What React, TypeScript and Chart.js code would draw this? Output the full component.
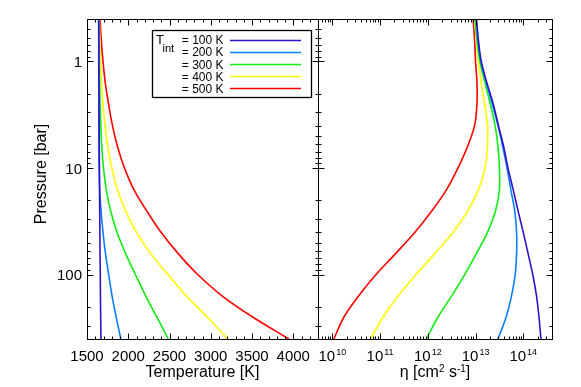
import React, { useEffect, useRef } from 'react';
import { Chart, registerables } from 'chart.js';

Chart.register(...registerables);

// ---------------- data ----------------
const pressure = [0.4, 0.63, 1, 1.6, 2.5, 4, 6.3, 10, 16, 25, 40, 63, 100, 160, 250, 400]; // bar

const tintLabels = ['100 K', '200 K', '300 K', '400 K', '500 K'];
const seriesColors = ['#3311cc', '#0a80ff', '#11ee11', '#ffff00', '#ff0000'];

// Temperature [K] at each pressure
const temp100 = [1642, 1643, 1644, 1645, 1646, 1647, 1649, 1650, 1652, 1654, 1656, 1658, 1661, 1663, 1666, 1669];
const temp200 = [1642, 1642, 1642, 1643, 1643, 1644, 1645, 1648, 1655, 1670, 1694, 1724, 1763, 1805, 1854, 1910];
const temp300 = [1642, 1644, 1648, 1653, 1659, 1667, 1679, 1700, 1734, 1785, 1864, 1967, 2088, 2215, 2348, 2485];
const temp400 = [1649, 1655, 1664, 1677, 1694, 1718, 1752, 1801, 1870, 1967, 2100, 2270, 2482, 2712, 2961, 3205];
const temp500 = [1658, 1673, 1694, 1722, 1761, 1809, 1870, 1955, 2070, 2221, 2397, 2603, 2845, 3148, 3512, 3948];

// log10 of eta [cm^2 s^-1] at each pressure
const logEta100 = [13.02, 13.06, 13.12, 13.24, 13.37, 13.48, 13.59, 13.68, 13.79, 13.89, 14.0, 14.1, 14.2, 14.28, 14.33, 14.37];
const logEta200 = [13.01, 13.05, 13.11, 13.23, 13.35, 13.47, 13.57, 13.66, 13.74, 13.82, 13.86, 13.86, 13.83, 13.75, 13.64, 13.47];
const logEta300 = [12.99, 13.03, 13.09, 13.2, 13.31, 13.41, 13.47, 13.5, 13.5, 13.42, 13.25, 13.02, 12.77, 12.49, 12.21, 11.97];
const logEta400 = [12.98, 13.02, 13.06, 13.12, 13.19, 13.25, 13.25, 13.2, 13.06, 12.84, 12.53, 12.15, 11.75, 11.37, 11.06, 10.8];
const logEta500 = [12.95, 12.98, 13.0, 13.03, 13.03, 12.98, 12.83, 12.63, 12.39, 12.09, 11.73, 11.33, 10.91, 10.54, 10.24, 10.03];

// axes
const tempTicks = [1500, 2000, 2500, 3000, 3500, 4000];
const pressureTicks = [1, 10, 100];
const pressureTickLabels = ['1', '10', '100'];
const etaTickExponents = [10, 11, 12, 13, 14];

const tempSeries = [temp100, temp200, temp300, temp400, temp500];
const etaSeries = [logEta100, logEta200, logEta300, logEta400, logEta500];

const FONT = '"Liberation Sans", Arial, Helvetica, sans-serif';
const MAJOR = 6;
const MINOR = 3;

function logTickValues(lo: number, hi: number, fromExp: number, toExp: number) {
  const out: Array<[number, boolean]> = [];
  for (let e = fromExp; e <= toExp; e++) {
    for (let k = 1; k <= 9; k++) {
      const v = k * Math.pow(10, e);
      if (v >= lo * 0.999 && v <= hi * 1.001) out.push([v, k === 1]);
    }
  }
  return out;
}

const framePlugin = {
  id: 'idlFrame',
  afterDraw(chart: any) {
    const { ctx } = chart;
    const xT = chart.scales.xT;
    const xE = chart.scales.xE;
    const yS = chart.scales.y;
    const px = (v: number) => Math.round(v) + 0.5;
    const top = px(yS.top);
    const bottom = px(yS.bottom);

    ctx.save();
    ctx.strokeStyle = '#000';
    ctx.lineWidth = 1;
    ctx.beginPath();
    const seg = (a: number, b: number, c: number, d: number) => {
      ctx.moveTo(a, b);
      ctx.lineTo(c, d);
    };
    const pTicks = logTickValues(0.4, 400, -1, 2);
    for (const s of [xT, xE]) {
      const l = px(s.left);
      const r = px(s.right);
      seg(l, top, r, top);
      seg(l, bottom, r, bottom);
      seg(l, top, l, bottom);
      seg(r, top, r, bottom);
      for (const [v, major] of pTicks) {
        const y = px(yS.getPixelForValue(v));
        const len = major ? MAJOR : MINOR;
        seg(l, y, l + len, y);
        seg(r, y, r - len, y);
      }
    }
    for (let t = 1500; t <= 4300; t += 100) {
      const x = px(xT.getPixelForValue(t));
      const len = tempTicks.includes(t) ? MAJOR : MINOR;
      seg(x, bottom, x, bottom - len);
      seg(x, top, x, top + len);
    }
    for (const [v, major] of logTickValues(xE.min, xE.max, 9, 14)) {
      const x = px(xE.getPixelForValue(v));
      const len = major ? MAJOR : MINOR;
      seg(x, bottom, x, bottom - len);
      seg(x, top, x, top + len);
    }
    ctx.stroke();

    // tick labels
    ctx.fillStyle = '#000';
    ctx.textBaseline = 'alphabetic';
    ctx.font = `15px ${FONT}`;
    ctx.textAlign = 'center';
    const labelBase = yS.bottom + 22;
    for (const t of tempTicks) {
      ctx.fillText(String(t), xT.getPixelForValue(t), labelBase);
    }
    ctx.textAlign = 'right';
    pressureTicks.forEach((p, i) => {
      ctx.fillText(pressureTickLabels[i], xT.left - 5, yS.getPixelForValue(p) + 5.5);
    });
    ctx.textAlign = 'left';
    for (const e of etaTickExponents) {
      const x = xE.getPixelForValue(Math.pow(10, e));
      ctx.font = `15px ${FONT}`;
      const wBase = ctx.measureText('10').width;
      ctx.font = `9px ${FONT}`;
      const wExp = ctx.measureText(String(e)).width;
      const x0 = x - (wBase + wExp + 1) / 2;
      ctx.font = `15px ${FONT}`;
      ctx.fillText('10', x0, labelBase);
      ctx.font = `9px ${FONT}`;
      ctx.fillText(String(e), x0 + wBase + 1, labelBase - 6.5);
    }

    // axis titles
    const titleBase = yS.bottom + 37.5;
    ctx.font = `16px ${FONT}`;
    ctx.textAlign = 'center';
    ctx.fillText('Temperature [K]', (xT.left + xT.right) / 2, titleBase);

    const parts: Array<[string, boolean]> = [
      ['η [cm', false],
      ['2', true],
      [' s', false],
      ['-1', true],
      [']', false],
    ];
    const widths = parts.map(([txt, sup]) => {
      ctx.font = sup ? `10px ${FONT}` : `16px ${FONT}`;
      return ctx.measureText(txt).width;
    });
    const total = widths.reduce((a, b) => a + b, 0);
    let cx = (xE.left + xE.right) / 2 - total / 2;
    ctx.textAlign = 'left';
    parts.forEach(([txt, sup], i) => {
      ctx.font = sup ? `10px ${FONT}` : `16px ${FONT}`;
      ctx.fillText(txt, cx, sup ? titleBase - 5 : titleBase);
      cx += widths[i];
    });

    ctx.save();
    ctx.translate(45.5, (yS.top + yS.bottom) / 2 - 5);
    ctx.rotate(-Math.PI / 2);
    ctx.font = `16px ${FONT}`;
    ctx.textAlign = 'center';
    ctx.fillText('Pressure [bar]', 0, 0);
    ctx.restore();

    // legend
    const lx = 152.5;
    const ly = 30.5;
    ctx.fillStyle = '#fff';
    ctx.fillRect(lx, ly, 159, 67);
    ctx.strokeStyle = '#000';
    ctx.lineWidth = 1.3;
    ctx.strokeRect(lx, ly, 159, 67);
    ctx.fillStyle = '#000';
    ctx.textAlign = 'left';
    ctx.font = `13px ${FONT}`;
    ctx.fillText('T', 156, 44);
    ctx.font = `11px ${FONT}`;
    ctx.fillText('int', 162.5, 51.5);
    tintLabels.forEach((lab, i) => {
      const rowY = 40 + i * 12.1;
      ctx.font = `12px ${FONT}`;
      ctx.textAlign = 'right';
      ctx.fillStyle = '#000';
      ctx.fillText('= ' + lab, 223.5, rowY + 4.3);
      ctx.strokeStyle = seriesColors[i];
      ctx.lineWidth = 1.5;
      ctx.beginPath();
      ctx.moveTo(230, Math.round(rowY) + 0.5);
      ctx.lineTo(301, Math.round(rowY) + 0.5);
      ctx.stroke();
    });
    ctx.restore();
  },
};

export default function App() {
  const canvasRef = useRef<HTMLCanvasElement | null>(null);

  useEffect(() => {
    if (!canvasRef.current) return;
    const datasets: any[] = [];
    tempSeries.forEach((vals, i) => {
      datasets.push({
        label: 'T ' + tintLabels[i],
        data: vals.map((t, j) => ({ x: t, y: pressure[j] })),
        xAxisID: 'xT',
        yAxisID: 'y',
        borderColor: seriesColors[i],
        borderWidth: 1.6,
        pointRadius: 0,
        tension: 0.33,
        fill: false,
      });
    });
    etaSeries.forEach((vals, i) => {
      datasets.push({
        label: 'eta ' + tintLabels[i],
        data: vals.map((le, j) => ({ x: Math.pow(10, le), y: pressure[j] })),
        xAxisID: 'xE',
        yAxisID: 'y',
        borderColor: seriesColors[i],
        borderWidth: 1.6,
        pointRadius: 0,
        tension: 0.33,
        fill: false,
      });
    });

    const chart = new Chart(canvasRef.current, {
      type: 'line',
      data: { datasets },
      options: {
        animation: false,
        responsive: false,
        devicePixelRatio: 1,
        events: [],
        layout: { padding: { left: 87, right: 29, top: 19, bottom: 48 } },
        plugins: { legend: { display: false }, tooltip: { enabled: false } },
        scales: {
          xT: {
            type: 'linear',
            position: 'bottom',
            stack: 'panels',
            stackWeight: 231,
            min: 1500,
            max: 4300,
            display: false,
          },
          xE: {
            type: 'logarithmic',
            position: 'bottom',
            stack: 'panels',
            stackWeight: 234,
            min: 5e9,
            max: 4e14,
            display: false,
          },
          y: {
            type: 'logarithmic',
            position: 'left',
            reverse: true,
            min: 0.4,
            max: 400,
            display: false,
          },
        },
      } as any,
      plugins: [framePlugin],
    });
    return () => chart.destroy();
  }, []);

  return (
    <div style={{ position: 'fixed', left: 0, top: 0, width: 581, height: 387, background: '#fff' }}>
      <canvas ref={canvasRef} width={581} height={387} style={{ width: 581, height: 387, display: 'block' }} />
    </div>
  );
}
